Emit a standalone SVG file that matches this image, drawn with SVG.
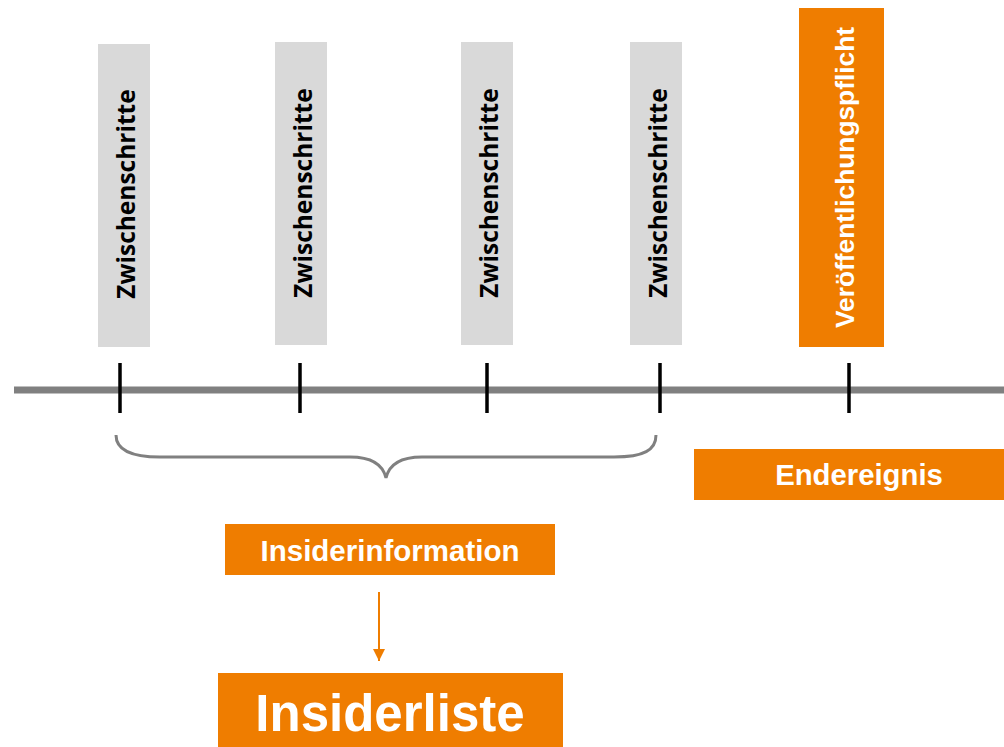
<svg xmlns="http://www.w3.org/2000/svg" width="1004" height="747" viewBox="0 0 1004 747">
<defs>
<style>
.step{fill:#D9D9D9}
.org{fill:#EF7D00}
.stxt{font-family:"Open Sans","Noto Sans",sans-serif;font-weight:bold;font-size:24.5px;fill:#000;text-anchor:middle}
.wtxt{font-family:"Liberation Sans",Arial,sans-serif;font-weight:bold;fill:#fff;text-anchor:middle}
.tick{stroke:#000;stroke-width:3.5}
</style>
<marker id="ah" markerWidth="12" markerHeight="12" refX="12" refY="6" orient="auto" markerUnits="userSpaceOnUse">
<path d="M0,0 L12,6 L0,12 Z" fill="#EF7D00"/>
</marker>
</defs>
<rect width="1004" height="747" fill="#fff"/>
<g id="timeline">
<line x1="14" y1="390" x2="1004" y2="390" stroke="#808080" stroke-width="7"/>
<line class="tick" x1="120" y1="363" x2="120" y2="413"/>
<line class="tick" x1="300" y1="363" x2="300" y2="413"/>
<line class="tick" x1="487" y1="363" x2="487" y2="413"/>
<line class="tick" x1="660" y1="363" x2="660" y2="413"/>
<line class="tick" x1="849" y1="363" x2="849" y2="413"/>
</g>
<g id="step1"><rect class="step" x="98" y="44" width="52" height="303"/><text class="stxt" transform="translate(134.5,194) rotate(-90)">Zwischenschritte</text></g>
<g id="step2"><rect class="step" x="275" y="42" width="52" height="303"/><text class="stxt" transform="translate(311.5,193) rotate(-90)">Zwischenschritte</text></g>
<g id="step3"><rect class="step" x="461" y="42" width="52" height="303"/><text class="stxt" transform="translate(497.5,193) rotate(-90)">Zwischenschritte</text></g>
<g id="step4"><rect class="step" x="630" y="42" width="52" height="303"/><text class="stxt" transform="translate(666.5,193) rotate(-90)">Zwischenschritte</text></g>
<g id="veroeffentlichung"><rect class="org" x="799" y="8" width="85" height="339"/><text class="wtxt" font-size="26.3" transform="translate(854,177.5) rotate(-90)">Veröffentlichungspflicht</text></g>
<g id="endereignis"><rect class="org" x="694" y="449" width="310" height="51"/><text class="wtxt" font-size="29.3" x="859" y="485">Endereignis</text></g>
<g id="insiderinformation"><rect class="org" x="225" y="524" width="330" height="51"/><text class="wtxt" font-size="29.5" x="390" y="561">Insiderinformation</text></g>
<g id="insiderliste"><rect class="org" x="218" y="673" width="345" height="74"/><text class="wtxt" font-size="51" x="390" y="731">Insiderliste</text></g>
<g id="connectors">
<path d="M116,435 C116,450 130,457 160,457 L350,457 C372,457 383,465 386,478 C389,465 400,457 422,457 L614,457 C644,457 656,450 656,435" fill="none" stroke="#808080" stroke-width="3"/>
<line x1="379" y1="592" x2="379" y2="661" stroke="#EF7D00" stroke-width="2" marker-end="url(#ah)"/>
</g>
</svg>
